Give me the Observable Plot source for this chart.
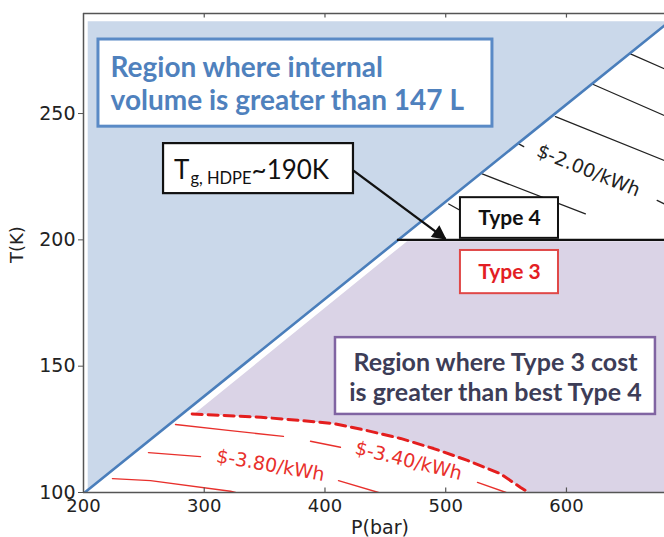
<!DOCTYPE html>
<html><head><meta charset="utf-8">
<script src="https://cdn.jsdelivr.net/npm/d3@7"></script>
<script src="https://cdn.jsdelivr.net/npm/@observablehq/plot@0.6"></script>
<style>body{margin:0;background:#fff} svg{display:block}</style>
</head><body><div id="chart"></div>
<script>
// ---- axis ticks ----
const xTicks = [200, 300, 400, 500, 600];
const yTicks = [100, 150, 200, 250];

// ---- volume limit line (P, T) ----
const limitP = [201, 682];
const limitT = [100, 285.2];

// ---- region where internal volume > 147 L (polygon) ----
const volRegionP = [201, 682, 682, 203.5, 203.5];
const volRegionT = [100, 285.2, 286.5, 286.5, 100];

// ---- Type 3 cost boundary (dashed red) ----
const bestP = [290, 347, 380, 407, 435, 462.5, 490, 518, 545, 562, 568.5];
const bestT = [131.1, 129.8, 128.5, 127.3, 124.5, 121.4, 117.4, 112.7, 107.5, 102, 100];

// ---- region where Type 3 cost > best Type 4 (polygon) ----
const t3RegionP = [468, 682, 682, 568.5, 562, 545, 518, 490, 462.5, 435, 407, 380, 347, 292];
const t3RegionT = [199.5, 199.5, 100, 100, 102, 107.5, 112.7, 117.4, 121.4, 124.5, 127.3, 128.5, 129.8, 131.3];

// ---- Type 3 cost contours (red) ----
const redSeg = ["A1","A1","A1","A2","A2","A3","A3","B1","B1","B2","B2","C","C","C","C"];
const redP   = [276.2, 321.7, 365.6, 388, 412.8, 526.3, 550, 253.8, 296.9, 411.2, 444.3, 224, 255.5, 321.7, 325.9];
const redT   = [126.9, 124.5, 122.2, 120.3, 117.9, 104, 100, 115.8, 114.2, 104.7, 100, 105.5, 104.7, 100.5, 100];

// ---- Type 4 cost contours (black) ----
const blkSeg = ["1","1","2","2","3","3","4a","4a","4b","4b","5","5","6","6"];
const blkP   = [653.0, 681.2, 621.3, 681.2, 590.9, 681.2, 560.5, 564.6, 675.1, 681.2, 530.2, 615.7, 502.5, 512.2];
const blkT   = [273.6, 267.7, 261.7, 249.2, 248.8, 231.4, 238.0, 236.9, 215.6, 214.2, 226.1, 210.3, 214.2, 211.6];

// ---- contour labels ----
const cLabels = ["$-2.00/kWh", "$-3.80/kWh", "$-3.40/kWh"];
const cLabelP = [618.2, 354.9, 469.2];
const cLabelT = [227.4, 110.7, 112.5];

// ---- glass transition of HDPE ----
const tgT = 200;
const tgStartP = 460;

const poly = (P, T) => P.map((p, i) => ({P: p, T: T[i]}));
const seg = (S, P, T) => S.map((s, i) => ({s, P: P[i], T: T[i]}));

const volRegion = poly(volRegionP, volRegionT);
const t3Region = poly(t3RegionP, t3RegionT);
const limit = poly(limitP, limitT);
const best = poly(bestP, bestT);
const redLines = seg(redSeg, redP, redT);
const blkLines = seg(blkSeg, blkP, blkT);
const labels = cLabels.map((t, i) => ({t, P: cLabelP[i], T: cLabelT[i]}));

const boxFont = "Lato, 'Open Sans', sans-serif";

const svg = Plot.plot({
  width: 664, height: 537,
  marginLeft: 83, marginRight: 0, marginTop: 13, marginBottom: 45,
  x: {domain: [200, 681.2]},
  y: {domain: [100, 289.6]},
  style: {fontFamily: "'DejaVu Sans', sans-serif", fontSize: "19px", background: "white", color: "#222"},
  marks: [
    Plot.line(volRegion, {x: "P", y: "T", curve: "linear-closed", fill: "#cad8ea", stroke: "none", clip: true}),
    Plot.line(t3Region, {x: "P", y: "T", curve: "linear-closed", fill: "#dad3e6", stroke: "none", clip: true}),
    Plot.line(redLines, {x: "P", y: "T", z: "s", stroke: "#e8302c", strokeWidth: 1.4, clip: true}),
    Plot.line(best, {x: "P", y: "T", stroke: "#e41e1e", strokeWidth: 3, strokeDasharray: "10,6", clip: true}),
    Plot.line(blkLines, {x: "P", y: "T", z: "s", stroke: "#222", strokeWidth: 1.3, clip: true}),
    Plot.line(limit, {x: "P", y: "T", stroke: "#4a7ebb", strokeWidth: 2.6, clip: true}),
    Plot.ruleY([tgT], {x1: tgStartP, x2: 682, stroke: "#111", strokeWidth: 2.4, clip: true}),
    // frame (left, bottom, top)
    Plot.ruleX([200], {stroke: "#555", strokeWidth: 1.5}),
    Plot.ruleY([100, 289.6], {stroke: "#555", strokeWidth: 1.5}),
    // inward x ticks
    Plot.ruleX(xTicks.slice(1), {y1: 100, y2: 101.8, stroke: "#555", strokeWidth: 1.2}),
    Plot.ruleX(xTicks.slice(1), {y1: 289.6, y2: 287.8, stroke: "#555", strokeWidth: 1.2}),
    Plot.axisX(xTicks, {tickSize: 0, tickPadding: 7, fontSize: 18, label: null}),
    Plot.axisY(yTicks, {tickSize: 5, tickPadding: 3, fontSize: 19, label: null, stroke: "#555"}),
    Plot.text(["P(bar)"], {frameAnchor: "bottom", dx: 6, dy: 35, fontSize: 19, lineAnchor: "middle"}),
    Plot.text(["T(K)"], {frameAnchor: "left", dx: -66, dy: 10, rotate: -90, fontSize: 18, lineAnchor: "middle"}),
    // contour labels
    Plot.text(labels.slice(0, 1), {x: "P", y: "T", text: "t", rotate: 22, fill: "#222", fontSize: 19}),
    Plot.text(labels.slice(1, 2), {x: "P", y: "T", text: "t", rotate: 10, fill: "#e8302c", fontSize: 19}),
    Plot.text(labels.slice(2, 3), {x: "P", y: "T", text: "t", rotate: 14, fill: "#e8302c", fontSize: 19}),
    // annotation boxes
    Plot.rect([0], {x1: 212.4, x2: 538.7, y1: 244.8, y2: 279.3, fill: "white", stroke: "#5a8ac6", strokeWidth: 3}),
    Plot.text(["Region where internal\nvolume is greater than 147 L"], {x: 222.4, y: 262.2, textAnchor: "start", lineHeight: 1.2, fontFamily: boxFont, fontWeight: "bold", fontSize: 28, fill: "#4f81bd"}),
    Plot.rect([0], {x1: 408.7, x2: 673.7, y1: 130.9, y2: 161.3, fill: "white", stroke: "#8064a2", strokeWidth: 2.5}),
    Plot.text(["Region where Type 3 cost\nis greater than best Type 4"], {x: 541.2, y: 146.1, lineHeight: 1.22, fontFamily: boxFont, fontWeight: "bold", fontSize: 25, fill: "#3d3d57"}),
    Plot.rect([0], {x1: 266.3, x2: 423.6, y1: 218.3, y2: 238.1, fill: "white", stroke: "#111", strokeWidth: 2.2}),
    Plot.text(["T"], {x: 275, y: 227.5, textAnchor: "start", fontFamily: boxFont, fontSize: 26, fill: "#111"}),
    Plot.link([0], {x1: 423.6, y1: 227.4, x2: 499.8, y2: 200.4, stroke: "#111", strokeWidth: 2.4}),
    Plot.rect([0], {x1: 512.2, x2: 593.4, y1: 200.6, y2: 216.7, fill: "white", stroke: "#111", strokeWidth: 2}),
    Plot.text(["Type 4"], {x: 552.8, y: 208.6, fontFamily: boxFont, fontWeight: "bold", fontSize: 21, fill: "#111"}),
    Plot.rect([0], {x1: 512.2, x2: 593.4, y1: 178.7, y2: 195.8, fill: "white", stroke: "#e04848", strokeWidth: 2}),
    Plot.text(["Type 3"], {x: 552.8, y: 187.3, fontFamily: boxFont, fontWeight: "bold", fontSize: 21, fill: "#e31e24"})
  ]
});

// subscript in the Tg label
const tgNode = Array.from(svg.querySelectorAll("text")).find(n => n.textContent === "T");
if (tgNode) {
  const t = d3.select(tgNode);
  t.text("T");
  t.append("tspan").attr("font-size", 16.5).attr("dy", 5).attr("dx", 1).text("g, HDPE");
  t.append("tspan").attr("dy", -5).text("~190K");
}
// filled arrowhead on the link
const defs = d3.select(svg).insert("defs", ":first-child");
defs.append("marker").attr("id", "ahead").attr("viewBox", "0 0 10 10")
  .attr("refX", 9).attr("refY", 5).attr("markerWidth", 7).attr("markerHeight", 6)
  .attr("markerUnits", "strokeWidth").attr("orient", "auto")
  .append("path").attr("d", "M0,0L10,5L0,10z").attr("fill", "#111");
d3.select(svg).selectAll('g[aria-label="link"] path').attr("marker-end", "url(#ahead)");

document.getElementById("chart").appendChild(svg);
</script>
</body></html>
